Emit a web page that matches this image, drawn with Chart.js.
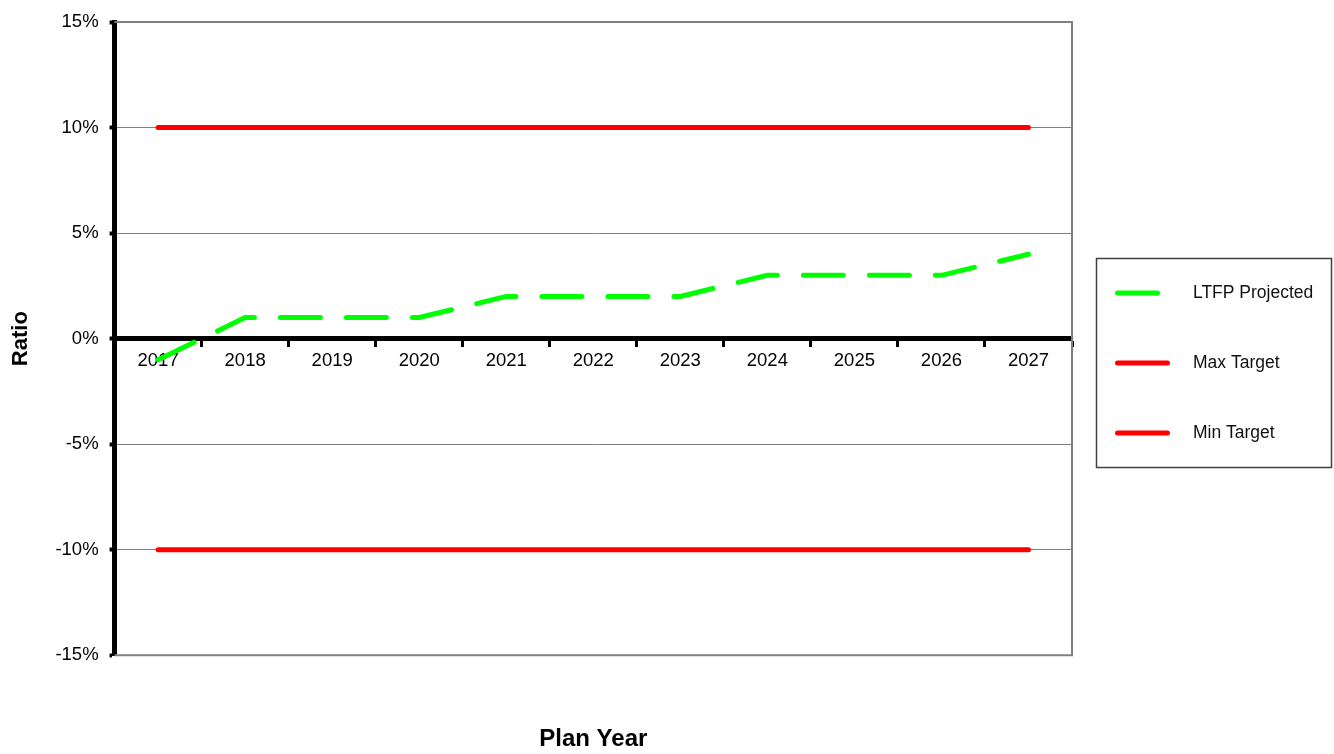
<!DOCTYPE html>
<html lang="en">
<head>
<meta charset="UTF-8">
<title>Ratio by Plan Year</title>
<script src="https://cdn.jsdelivr.net/npm/chart.js"></script>
<style>
  html, body { margin: 0; padding: 0; background: #fff; }
  #wrap { width: 1334px; height: 754px; }
</style>
</head>
<body>
<div id="wrap"><canvas id="ratioChart"></canvas></div>
<script>
// Plan years and ratio series (percent)
const planYears = ['2017', '2018', '2019', '2020', '2021', '2022', '2023', '2024', '2025', '2026', '2027'];
const ltfpProjected = [-1, 1, 1, 1, 2, 2, 2, 3, 3, 3, 4];
const maxTarget = [10, 10, 10, 10, 10, 10, 10, 10, 10, 10, 10];
const minTarget = [-10, -10, -10, -10, -10, -10, -10, -10, -10, -10, -10];
const ratioMin = -15;
const ratioMax = 15;
const ratioStep = 5;

const FONT = 'Liberation Sans, Arial, sans-serif';

// grey frame on top and right of the plot
const plotFrame = {
  id: 'plotFrame',
  beforeDatasetsDraw(chart) {
    const { ctx, chartArea: a } = chart;
    ctx.save();
    ctx.strokeStyle = '#808080';
    ctx.lineWidth = 2;
    ctx.beginPath();
    ctx.moveTo(a.left, a.top);
    ctx.lineTo(a.right, a.top);
    ctx.lineTo(a.right, a.bottom);
    ctx.lineTo(a.left, a.bottom);
    ctx.stroke();
    ctx.restore();
  }
};

// boxed legend to the right of the plot
const boxLegend = {
  id: 'boxLegend',
  afterDraw(chart) {
    const { ctx, chartArea: a } = chart;
    const left = a.right + 24;
    const top = 258;
    const w = 235, h = 209;
    ctx.save();
    ctx.strokeStyle = '#404040';
    ctx.lineWidth = 1.5;
    ctx.strokeRect(left + 0.5, top + 0.5, w, h);
    chart.data.datasets.forEach((ds, i) => {
      const y = top + 35 + i * 70;
      ctx.strokeStyle = ds.borderColor;
      ctx.lineWidth = ds.borderWidth;
      ctx.lineCap = 'round';
      ctx.setLineDash(ds.borderDash || []);
      ctx.beginPath();
      ctx.moveTo(left + 21.5, y);
      ctx.lineTo(left + 71.5, y);
      ctx.stroke();
      ctx.setLineDash([]);
      ctx.fillStyle = '#111';
      ctx.font = '17.5px ' + FONT;
      ctx.textBaseline = 'middle';
      ctx.fillText(ds.label, left + 97, y);
    });
    ctx.restore();
  }
};

new Chart(document.getElementById('ratioChart'), {
  type: 'line',
  data: {
    labels: planYears,
    datasets: [
      {
        label: 'LTFP Projected',
        data: ltfpProjected,
        borderColor: '#00ff00',
        borderWidth: 5,
        borderDash: [40, 26],
        borderCapStyle: 'round',
        pointRadius: 0,
        tension: 0,
        fill: false
      },
      {
        label: 'Max Target',
        data: maxTarget,
        borderColor: '#ff0000',
        borderWidth: 5,
        borderCapStyle: 'round',
        pointRadius: 0,
        fill: false
      },
      {
        label: 'Min Target',
        data: minTarget,
        borderColor: '#ff0000',
        borderWidth: 5,
        borderCapStyle: 'round',
        pointRadius: 0,
        fill: false
      }
    ]
  },
  options: {
    responsive: true,
    maintainAspectRatio: false,
    animation: false,
    layout: { padding: { left: 4, top: 20, right: 262, bottom: 0 } },
    plugins: {
      legend: { display: false },
      tooltip: { enabled: false },
      title: {
        display: true,
        text: 'Plan Year',
        position: 'bottom',
        fullSize: false,
        color: '#000',
        font: { family: FONT, size: 24, weight: 'bold' },
        padding: { top: 70, bottom: 0 }
      }
    },
    scales: {
      x: {
        position: { y: 0 },
        offset: true,
        ticks: { color: '#000', font: { family: FONT, size: 18.5 }, padding: 5, maxRotation: 0 },
        grid: { drawOnChartArea: false, offset: true, tickColor: '#000', tickLength: 6, tickWidth: 3 },
        border: { color: '#000', width: 5 }
      },
      y: {
        min: ratioMin,
        max: ratioMax,
        ticks: {
          stepSize: ratioStep,
          color: '#000',
          font: { family: FONT, size: 18.5 },
          padding: 11,
          callback: v => v + '%'
        },
        grid: { color: '#808080', lineWidth: 1, tickColor: '#000', tickLength: 5, tickWidth: 4 },
        border: { color: '#000', width: 5 },
        title: {
          display: true,
          text: 'Ratio',
          color: '#000',
          font: { family: FONT, size: 22, weight: 'bold' },
          padding: { top: 4, bottom: 10 }
        }
      }
    }
  },
  plugins: [plotFrame, boxLegend]
});
</script>
</body>
</html>
